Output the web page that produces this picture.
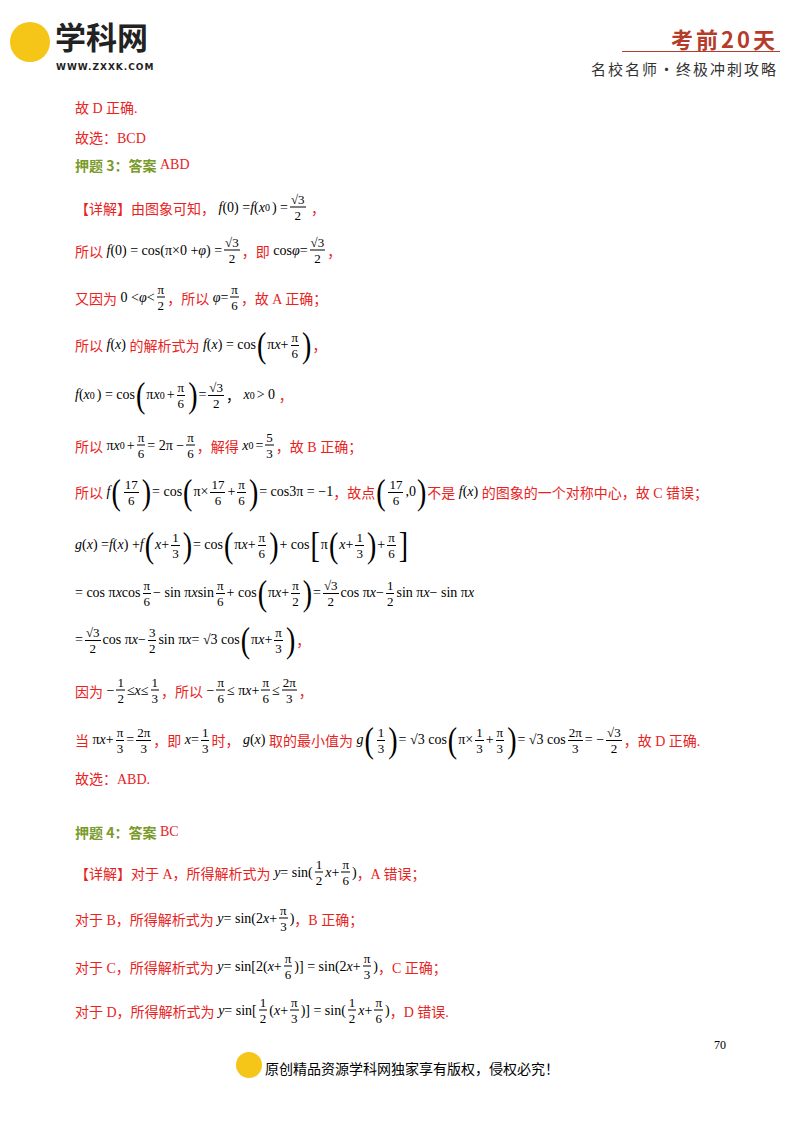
<!DOCTYPE html>
<html><head><meta charset="utf-8">
<script src="https://cdn.jsdelivr.net/npm/chart.js@4"></script>
<style>
body{margin:0;width:800px;height:1132px;background:#fff;position:relative;font-family:"Liberation Serif","Noto Sans CJK SC",serif;font-size:14px;color:#000;overflow:hidden}
.l{position:absolute;left:75px;white-space:nowrap;transform:translateY(-50%);display:flex;align-items:center}
.r{color:#e8231e}
.g{color:#7a9a2a;font-weight:bold;font-family:"Noto Sans CJK SC",sans-serif}
.fr{display:inline-flex;flex-direction:column;align-items:center;vertical-align:middle;margin:0 2px;font-size:13px;line-height:15px}
.fr span:first-child{border-bottom:1px solid #000;padding:0 1px}
i{font-style:italic}
sub{font-size:10px;margin-right:2px}
.big{font-size:28px;font-weight:200;transform:scaleY(1.3);display:inline-block;margin:0 1px}
</style></head><body>
<div style="position:absolute;left:10px;top:22px;width:40px;height:40px;border-radius:50%;background:#f5c518"></div>
<div style="position:absolute;left:55px;top:16px;font:bold 31px/40px 'Noto Sans CJK SC';color:#222">学科网</div>
<div style="position:absolute;left:56px;top:62px;font:bold 9px/10px 'DejaVu Sans';color:#222;letter-spacing:1px">WWW.ZXXK.COM</div>
<div style="position:absolute;right:22px;top:22px;font:bold 22px 'Noto Sans CJK SC';color:#b53b2a;letter-spacing:3px">考前20天</div>
<div style="position:absolute;left:622px;top:51px;width:158px;height:1px;background:#b53b2a"></div>
<div style="position:absolute;right:22px;top:58px;font:15px 'Noto Sans CJK SC';color:#333;letter-spacing:2px">名校名师·终极冲刺攻略</div>

<div class="l r" style="top:107px">故 D 正确.</div>
<div class="l r" style="top:137px">故选：BCD</div>
<div class="l" style="top:165px"><span class="g">押题 3：答案</span>&nbsp;<span class="r">ABD</span></div>
<div class="l" style="top:207px"><span class="r">【详解】由图象可知，</span>&nbsp;<i>f</i>(0) = <i>f</i>(<i>x</i><sub>0</sub>) = <span class="fr"><span>√3</span><span>2</span></span>&nbsp;<span class="r">，</span></div>
<div class="l" style="top:250px"><span class="r">所以</span>&nbsp;<i>f</i>(0) = cos(π×0 + <i>φ</i>) = <span class="fr"><span>√3</span><span>2</span></span><span class="r">，即</span>&nbsp;cos<i>φ</i> = <span class="fr"><span>√3</span><span>2</span></span><span class="r">，</span></div>
<div class="l" style="top:297px"><span class="r">又因为</span>&nbsp;0 &lt; <i>φ</i> &lt; <span class="fr"><span>π</span><span>2</span></span><span class="r">，所以</span>&nbsp;<i>φ</i> = <span class="fr"><span>π</span><span>6</span></span><span class="r">，故 A 正确；</span></div>
<div class="l" style="top:345px"><span class="r">所以</span>&nbsp;<i>f</i>(<i>x</i>)&nbsp;<span class="r">的解析式为</span>&nbsp;<i>f</i>(<i>x</i>) = cos<span class="big">(</span>π<i>x</i> + <span class="fr"><span>π</span><span>6</span></span><span class="big">)</span><span class="r">，</span></div>
<div class="l" style="top:395px"><i>f</i>(<i>x</i><sub>0</sub>) = cos<span class="big">(</span>π<i>x</i><sub>0</sub> + <span class="fr"><span>π</span><span>6</span></span><span class="big">)</span> = <span class="fr"><span>√3</span><span>2</span></span>，&nbsp;<i>x</i><sub>0</sub> &gt; 0&nbsp;<span class="r">，</span></div>
<div class="l" style="top:445px"><span class="r">所以</span>&nbsp;π<i>x</i><sub>0</sub> + <span class="fr"><span>π</span><span>6</span></span> = 2π − <span class="fr"><span>π</span><span>6</span></span><span class="r">，解得</span>&nbsp;<i>x</i><sub>0</sub> = <span class="fr"><span>5</span><span>3</span></span><span class="r">，故 B 正确；</span></div>
<div class="l" style="top:492px"><span class="r">所以</span>&nbsp;<i>f</i><span class="big">(</span><span class="fr"><span>17</span><span>6</span></span><span class="big">)</span> = cos<span class="big">(</span>π×<span class="fr"><span>17</span><span>6</span></span> + <span class="fr"><span>π</span><span>6</span></span><span class="big">)</span> = cos3π = −1<span class="r">，故点</span><span class="big">(</span><span class="fr"><span>17</span><span>6</span></span>,0<span class="big">)</span><span class="r">不是</span>&nbsp;<i>f</i>(<i>x</i>)&nbsp;<span class="r">的图象的一个对称中心，故 C 错误；</span></div>
<div class="l" style="top:545px"><i>g</i>(<i>x</i>) = <i>f</i>(<i>x</i>) + <i>f</i><span class="big">(</span><i>x</i> + <span class="fr"><span>1</span><span>3</span></span><span class="big">)</span> = cos<span class="big">(</span>π<i>x</i> + <span class="fr"><span>π</span><span>6</span></span><span class="big">)</span> + cos<span class="big">[</span>π<span class="big">(</span><i>x</i> + <span class="fr"><span>1</span><span>3</span></span><span class="big">)</span> + <span class="fr"><span>π</span><span>6</span></span><span class="big">]</span></div>
<div class="l" style="top:593px">= cos π<i>x</i> cos<span class="fr"><span>π</span><span>6</span></span> − sin π<i>x</i> sin<span class="fr"><span>π</span><span>6</span></span> + cos<span class="big">(</span>π<i>x</i> + <span class="fr"><span>π</span><span>2</span></span><span class="big">)</span> = <span class="fr"><span>√3</span><span>2</span></span>cos π<i>x</i> − <span class="fr"><span>1</span><span>2</span></span>sin π<i>x</i> − sin π<i>x</i></div>
<div class="l" style="top:640px">= <span class="fr"><span>√3</span><span>2</span></span>cos π<i>x</i> − <span class="fr"><span>3</span><span>2</span></span>sin π<i>x</i> = √3 cos<span class="big">(</span>π<i>x</i> + <span class="fr"><span>π</span><span>3</span></span><span class="big">)</span><span class="r">，</span></div>
<div class="l" style="top:690px"><span class="r">因为</span>&nbsp;− <span class="fr"><span>1</span><span>2</span></span> ≤ <i>x</i> ≤ <span class="fr"><span>1</span><span>3</span></span><span class="r">，所以</span>&nbsp;− <span class="fr"><span>π</span><span>6</span></span> ≤ π<i>x</i> + <span class="fr"><span>π</span><span>6</span></span> ≤ <span class="fr"><span>2π</span><span>3</span></span><span class="r">，</span></div>
<div class="l" style="top:740px"><span class="r">当</span>&nbsp;π<i>x</i> + <span class="fr"><span>π</span><span>3</span></span> = <span class="fr"><span>2π</span><span>3</span></span><span class="r">，即</span>&nbsp;<i>x</i> = <span class="fr"><span>1</span><span>3</span></span><span class="r">时，</span>&nbsp;<i>g</i>(<i>x</i>)&nbsp;<span class="r">取的最小值为</span>&nbsp;<i>g</i><span class="big">(</span><span class="fr"><span>1</span><span>3</span></span><span class="big">)</span> = √3 cos<span class="big">(</span>π×<span class="fr"><span>1</span><span>3</span></span> + <span class="fr"><span>π</span><span>3</span></span><span class="big">)</span> = √3 cos<span class="fr"><span>2π</span><span>3</span></span> = − <span class="fr"><span>√3</span><span>2</span></span><span class="r">，故 D 正确.</span></div>
<div class="l r" style="top:778px">故选：ABD.</div>
<div class="l" style="top:832px"><span class="g">押题 4：答案</span>&nbsp;<span class="r">BC</span></div>
<div class="l" style="top:872px"><span class="r">【详解】对于 A，所得解析式为</span>&nbsp;<i>y</i> = sin(<span class="fr"><span>1</span><span>2</span></span><i>x</i> + <span class="fr"><span>π</span><span>6</span></span>)<span class="r">，A 错误；</span></div>
<div class="l" style="top:918px"><span class="r">对于 B，所得解析式为</span>&nbsp;<i>y</i> = sin(2<i>x</i> + <span class="fr"><span>π</span><span>3</span></span>)<span class="r">，B 正确；</span></div>
<div class="l" style="top:966px"><span class="r">对于 C，所得解析式为</span>&nbsp;<i>y</i> = sin[2(<i>x</i> + <span class="fr"><span>π</span><span>6</span></span>)] = sin(2<i>x</i> + <span class="fr"><span>π</span><span>3</span></span>)<span class="r">，C 正确；</span></div>
<div class="l" style="top:1010px"><span class="r">对于 D，所得解析式为</span>&nbsp;<i>y</i> = sin[<span class="fr"><span>1</span><span>2</span></span>(<i>x</i> + <span class="fr"><span>π</span><span>3</span></span>)] = sin(<span class="fr"><span>1</span><span>2</span></span><i>x</i> + <span class="fr"><span>π</span><span>6</span></span>)<span class="r">，D 错误.</span></div>
<div style="position:absolute;left:714px;top:1038px;font-size:12px">70</div>
<div style="position:absolute;left:236px;top:1052px;width:26px;height:26px;border-radius:50%;background:#f5c518"></div>
<div style="position:absolute;left:265px;top:1058px;font:14px 'Noto Sans CJK SC'">原创精品资源学科网独家享有版权，侵权必究！</div>
</body></html>
